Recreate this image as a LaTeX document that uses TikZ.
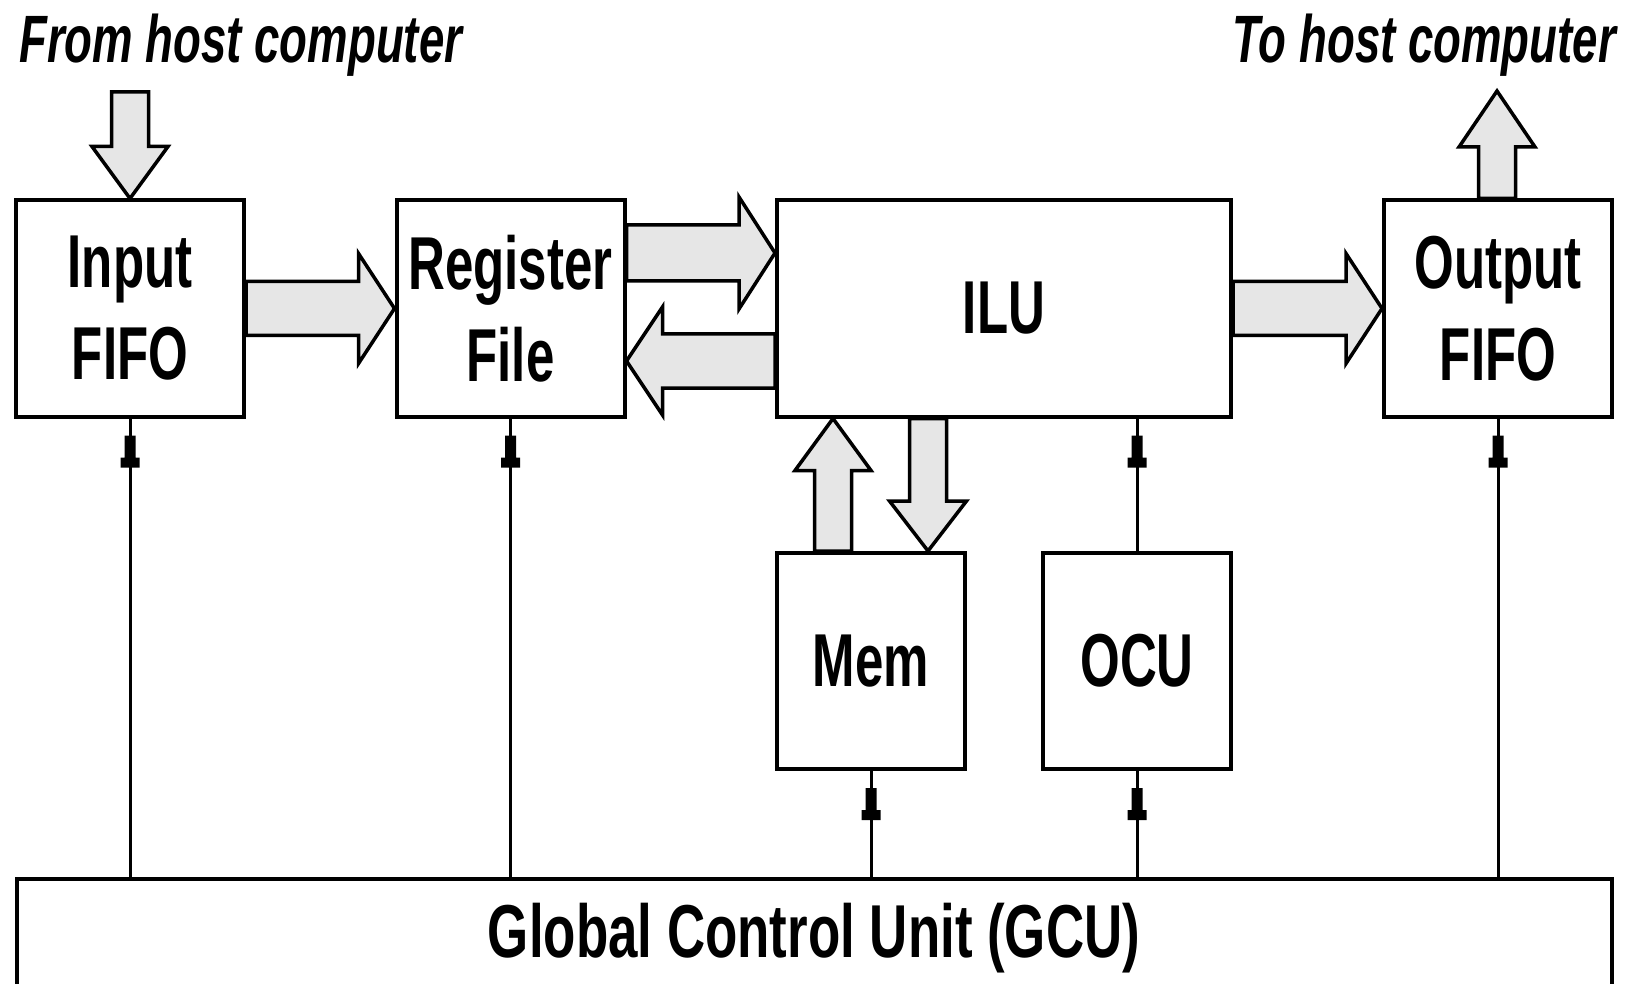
\documentclass[tikz,border=0pt]{standalone}
\usepackage{fontspec}
\newfontfamily\labfont{Liberation Sans}[FakeStretch=0.68]
\newfontfamily\gcufont{Liberation Sans}[FakeStretch=0.705]
\usetikzlibrary{calc}
\definecolor{afill}{RGB}{230,230,230}
\tikzset{
  box/.style={draw, line width=4pt, minimum width=228pt, minimum height=216pt,
    inner sep=0pt, align=center, font=\labfont\bfseries\fontsize{75}{92}\selectfont},
  bigarrow/.style={fill=afill, draw, line width=3.5pt, line join=miter},
  ctrl/.style={line width=3pt},
  hosttext/.style={inner sep=0pt, font=\labfont\bfseries\itshape\fontsize{67}{80}\selectfont},
  ctip/.pic={\fill (-5.5,0) -- (5.5,0) -- (5.5,22) -- (9.5,22) -- (9.5,32) -- (-9.5,32) -- (-9.5,22) -- (-5.5,22) -- cycle;}
}
\begin{document}
\begin{tikzpicture}[x=1pt,y=-1pt]
\useasboundingbox (0,0) rectangle (1628,984);
\clip (0,0) rectangle (1628,984);

% boxes
\node[box] (inF) at (130,308.5) {Input\\FIFO};
\node[box] (reg) at (510.5,308.5) {Register\\File};
\node[box, minimum width=454pt] (ilu) at (1004,308.5) {ILU};
\node[box] (outF) at (1498,308.5) {Output\\FIFO};
\node[box, minimum width=188pt] (mem) at (871,661) {Mem};
\node[box, minimum width=188pt] (ocu) at (1137,661) {OCU};
\node[draw, line width=4pt, minimum width=1595pt, minimum height=140pt, inner sep=0pt, anchor=north] (gcu) at (814,877) {};
\node[anchor=base, inner sep=0pt, font=\gcufont\bfseries\fontsize{75}{92}\selectfont] (gcuT) at (814,957) {Global Control Unit (GCU)};

% host labels
\node[hosttext, anchor=base west] (fromT) at (19,63) {From host computer};
\node[hosttext, anchor=base east] (toT) at (1616,63) {To host computer};

% big arrows: Input FIFO -> Register File
\coordinate (a1s) at (inF.east);
\coordinate (a1t) at (reg.west);
\filldraw[bigarrow] ($(a1s)+(0,-27)$) -- ($(a1t)+(-36,-27)$) -- ($(a1t)+(-36,-55)$) -- (a1t)
  -- ($(a1t)+(-36,55)$) -- ($(a1t)+(-36,27)$) -- ($(a1s)+(0,27)$) -- cycle;

% Register File -> ILU
\coordinate (a2s) at ($(reg.east)+(0,-55.5)$);
\coordinate (a2t) at ($(ilu.west)+(0,-55.5)$);
\filldraw[bigarrow] ($(a2s)+(0,-28)$) -- ($(a2t)+(-36,-28)$) -- ($(a2t)+(-36,-56)$) -- (a2t)
  -- ($(a2t)+(-36,56)$) -- ($(a2t)+(-36,28)$) -- ($(a2s)+(0,28)$) -- cycle;

% ILU -> Register File
\coordinate (a3s) at ($(ilu.west)+(0,52.5)$);
\coordinate (a3t) at ($(reg.east)+(0,52.5)$);
\filldraw[bigarrow] ($(a3s)+(0,-27)$) -- ($(a3t)+(36,-27)$) -- ($(a3t)+(36,-54)$) -- (a3t)
  -- ($(a3t)+(36,54)$) -- ($(a3t)+(36,27)$) -- ($(a3s)+(0,27)$) -- cycle;

% ILU -> Output FIFO
\coordinate (a4s) at (ilu.east);
\coordinate (a4t) at (outF.west);
\filldraw[bigarrow] ($(a4s)+(0,-27)$) -- ($(a4t)+(-36,-27)$) -- ($(a4t)+(-36,-55)$) -- (a4t)
  -- ($(a4t)+(-36,55)$) -- ($(a4t)+(-36,27)$) -- ($(a4s)+(0,27)$) -- cycle;

% host -> Input FIFO
\coordinate (a5t) at (inF.north);
\coordinate (a5s) at ($(a5t)+(0,-106.5)$);
\filldraw[bigarrow] ($(a5s)+(-18.5,0)$) -- ($(a5t)+(-18.5,-52)$) -- ($(a5t)+(-38,-52)$) -- (a5t)
  -- ($(a5t)+(38,-52)$) -- ($(a5t)+(18.5,-52)$) -- ($(a5s)+(18.5,0)$) -- cycle;

% Output FIFO -> host
\coordinate (a6s) at ($(outF.north)+(-1,0)$);
\coordinate (a6t) at ($(a6s)+(0,-107.5)$);
\filldraw[bigarrow] ($(a6s)+(-18.5,0)$) -- ($(a6t)+(-18.5,56)$) -- ($(a6t)+(-38,56)$) -- (a6t)
  -- ($(a6t)+(38,56)$) -- ($(a6t)+(18.5,56)$) -- ($(a6s)+(18.5,0)$) -- cycle;

% Mem -> ILU
\coordinate (a7s) at ($(mem.north)+(-38,0)$);
\coordinate (a7t) at ($(ilu.south)+(-171,0)$);
\filldraw[bigarrow] ($(a7s)+(-18.5,0)$) -- ($(a7t)+(-18.5,52)$) -- ($(a7t)+(-38,52)$) -- (a7t)
  -- ($(a7t)+(38,52)$) -- ($(a7t)+(18.5,52)$) -- ($(a7s)+(18.5,0)$) -- cycle;

% ILU -> Mem
\coordinate (a8s) at ($(ilu.south)+(-76,0)$);
\coordinate (a8t) at ($(mem.north)+(57,0)$);
\filldraw[bigarrow] ($(a8s)+(-18.5,0)$) -- ($(a8t)+(-18.5,-50)$) -- ($(a8t)+(-38.5,-50)$) -- (a8t)
  -- ($(a8t)+(38.5,-50)$) -- ($(a8t)+(18.5,-50)$) -- ($(a8s)+(18.5,0)$) -- cycle;

% control lines
\draw[ctrl] (gcu.north -| inF.south) -- (inF.south);
\draw[ctrl] (gcu.north -| reg.south) -- (reg.south);
\draw[ctrl] (gcu.north -| mem.south) -- (mem.south);
\draw[ctrl] (gcu.north -| ocu.south) -- (ocu.south);
\draw[ctrl] (gcu.north -| outF.south) -- (outF.south);
\draw[ctrl] (ocu.north) -- (ilu.south -| ocu.north);
\pic at ($(inF.south)+(0,17)$) {ctip};
\pic at ($(reg.south)+(0,17)$) {ctip};
\pic at ($(outF.south)+(0,17)$) {ctip};
\pic at ($(mem.south)+(0,17)$) {ctip};
\pic at ($(ocu.south)+(0,17)$) {ctip};
\pic at ($(ilu.south -| ocu.north)+(0,17)$) {ctip};
\end{tikzpicture}
\end{document}
